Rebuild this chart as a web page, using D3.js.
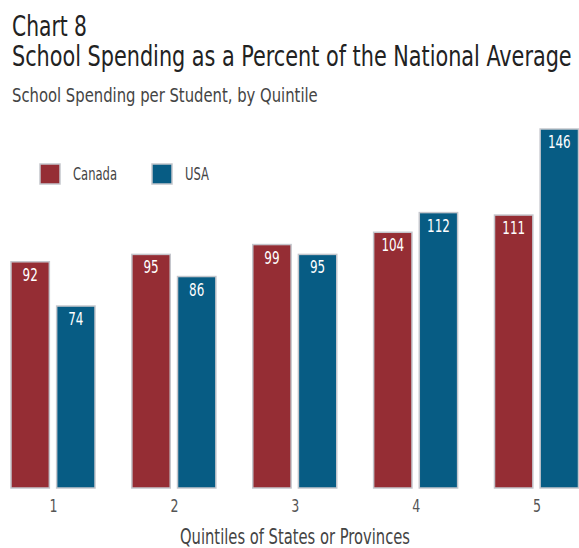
<!DOCTYPE html>
<html>
<head>
<meta charset="utf-8">
<script src="https://cdn.jsdelivr.net/npm/d3@7"></script>
<style>
  html, body { margin: 0; padding: 0; background: #fff; }
  svg { display: block; }
  text { font-family: "Liberation Sans Narrow", "DejaVu Sans Condensed", "Arial Narrow", sans-serif; }
</style>
</head>
<body>
<div id="chart"></div>
<script>
// Chart 8 — school spending by quintile, Canada vs USA
const quintiles = ["1", "2", "3", "4", "5"];
const seriesNames = ["Canada", "USA"];
const canadaValues = [92, 95, 99, 104, 111];
const usaValues = [74, 86, 95, 112, 146];
const seriesColors = { Canada: "#952d34", USA: "#075c84" };

const width = 579, height = 548;
const svg = d3.select("#chart").append("svg")
  .attr("width", width)
  .attr("height", height);

// squeeze a text horizontally so it takes `w` px (original uses a condensed face)
function squeezed(parent, x, y, w, txt) {
  const t = parent.append("text").attr("x", 0).attr("y", 0).text(txt);
  return { t, place() {
    const natural = t.node().getComputedTextLength();
    const sx = Math.min(1, w / natural);
    t.attr("transform", `translate(${x},${y}) scale(${sx},1)`);
    return t;
  } };
}

// Titles
const title1 = squeezed(svg, 12, 36, 75, "Chart 8");
title1.t.attr("font-size", 28).attr("fill", "#222");
title1.place();
const title2 = squeezed(svg, 12, 66, 560, "School Spending as a Percent of the National Average");
title2.t.attr("font-size", 28).attr("fill", "#222");
title2.place();
const subtitle = squeezed(svg, 12, 102, 306, "School Spending per Student, by Quintile");
subtitle.t.attr("font-size", 19).attr("fill", "#444");
subtitle.place();

// Scales
const x0 = d3.scalePoint().domain(quintiles).range([53, 536.5]);
const x1 = d3.scaleBand().domain(seriesNames).range([-42, 42]).paddingInner(0.16);
const y = d3.scaleLinear().domain([0, 146]).range([488, 129]);

const rows = quintiles.map((q, i) => ({
  q,
  values: [
    { name: "Canada", value: canadaValues[i] },
    { name: "USA", value: usaValues[i] },
  ],
}));

const groups = svg.append("g").selectAll("g")
  .data(rows)
  .join("g")
  .attr("transform", d => `translate(${x0(d.q)},0)`);

groups.selectAll("rect")
  .data(d => d.values)
  .join("rect")
  .attr("x", d => x1(d.name))
  .attr("y", d => y(d.value))
  .attr("width", x1.bandwidth())
  .attr("height", d => y(0) - y(d.value))
  .attr("fill", d => seriesColors[d.name])
  .attr("stroke", "#c4c6cc")
  .attr("stroke-width", 1.5);

groups.selectAll("text.val")
  .data(d => d.values)
  .join("text")
  .attr("class", "val")
  .attr("x", d => x1(d.name) + x1.bandwidth() / 2)
  .attr("y", d => y(d.value) + 19)
  .attr("text-anchor", "middle")
  .attr("font-size", 18)
  .attr("fill", "#fff")
  .attr("textLength", d => String(d.value).length * 7.6)
  .attr("lengthAdjust", "spacingAndGlyphs")
  .text(d => d.value);

// X axis (labels only)
const xAxis = svg.append("g")
  .attr("transform", `translate(0,${y(0)})`)
  .call(d3.axisBottom(x0).tickSize(0).tickPadding(12));
xAxis.select(".domain").remove();
xAxis.selectAll("text")
  .attr("font-size", 17)
  .attr("fill", "#555")
  .attr("textLength", 8)
  .attr("lengthAdjust", "spacingAndGlyphs")
  .style("font-family", null);

svg.append("text")
  .attr("x", 295).attr("y", 544)
  .attr("text-anchor", "middle")
  .attr("font-size", 21)
  .attr("fill", "#444")
  .attr("textLength", 230).attr("lengthAdjust", "spacingAndGlyphs")
  .text("Quintiles of States or Provinces");

// Legend
const legend = svg.append("g");
const legendX = { Canada: 40, USA: 152 };
const legendTextW = { Canada: 44, USA: 24 };
seriesNames.forEach(name => {
  const g = legend.append("g").attr("transform", `translate(${legendX[name]},164)`);
  g.append("rect")
    .attr("width", 20).attr("height", 20)
    .attr("fill", seriesColors[name])
    .attr("stroke", "#c4c6cc").attr("stroke-width", 1.5);
  g.append("text")
    .attr("x", 33).attr("y", 16)
    .attr("font-size", 18)
    .attr("fill", "#444")
    .attr("textLength", legendTextW[name]).attr("lengthAdjust", "spacingAndGlyphs")
    .text(name);
});
</script>
</body>
</html>
